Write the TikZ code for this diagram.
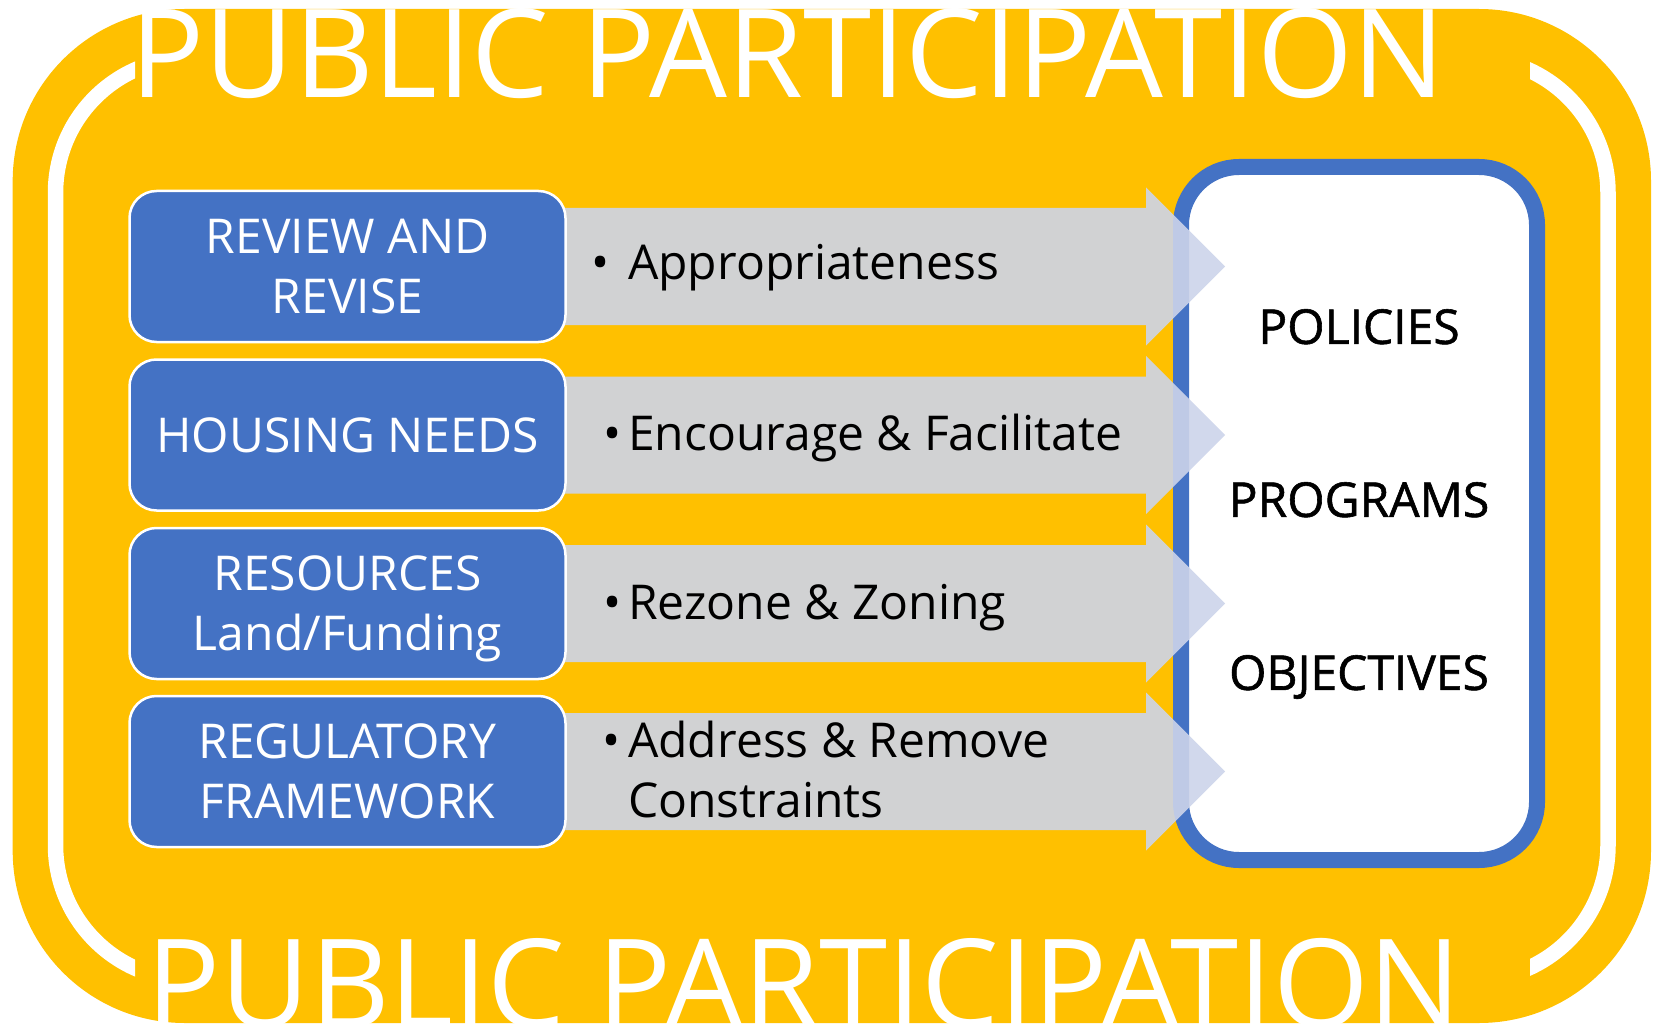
\documentclass[tikz,border=0pt]{standalone}
\usepackage{fontspec}
\setmainfont{Open Sans}
\newfontfamily\goalfont{Open Sans}[FakeBold=1.2]
\usetikzlibrary{positioning}
\definecolor{ppyellow}{HTML}{FFC000}
\definecolor{ppblue}{HTML}{4472C4}
\definecolor{pparrow}{HTML}{CDD4EA}

\begin{document}
\begin{tikzpicture}[x=1pt,y=-1pt,
  stagebox/.style={draw=white,line width=2.5pt,fill=ppblue,rounded corners=27pt,
    minimum width=436pt,minimum height=151pt,inner sep=0pt,text=white,align=center,
    font=\fontsize{48}{60}\selectfont},
  goalbox/.style={draw=ppblue,line width=16pt,fill=white,rounded corners=58pt,
    minimum width=356pt,minimum height=693pt,inner sep=0pt},
  goaltext/.style={font=\goalfont\fontsize{48}{60}\selectfont,text depth=0pt,inner sep=0pt},
  itemtext/.style={anchor=west,align=left,inner sep=0pt,font=\fontsize{48}{60}\selectfont},
  itemline/.style={itemtext,text depth=0pt},
  blockarrow/.style={fill=pparrow,fill opacity=.9},
  banner/.style={text=white,inner sep=0pt,anchor=base,font=\fontsize{123}{140}\selectfont}]
\useasboundingbox (0,0) rectangle (1655,1027);
\clip (0,0) rectangle (1655,1027);
% yellow frame and the white ring, open under the titles
\fill[ppyellow,rounded corners=172pt] (12.7,9) rectangle (1651,1023);
\begin{scope}
\clip (0,0) rectangle (135,1027) (1530,0) rectangle (1655,1027) (135,100) rectangle (1530,940);
\draw[white,line width=15.5pt,rounded corners=135pt] (55.5,58) rectangle (1608,980);
\end{scope}
\node[banner] (toptitle) at (788,98) {PUBLIC PARTICIPATION};
\node[banner] (bottitle) at (804,1027) {PUBLIC PARTICIPATION};
% outcome box
\node[goalbox] (goal) at (1359,513.5) {};
% stages and their arrows
\foreach \nm/\cy/\lbl in {review/266.5/{REVIEW AND\\REVISE},needs/435/{HOUSING NEEDS},
  resources/603.5/{RESOURCES\\\smash{Land/Funding}},framework/771.5/{REGULATORY\\FRAMEWORK}}{
  \fill[blockarrow] (550,\cy-58.5) -- (1146,\cy-58.5) -- (1146,\cy-79) -- (1225,\cy)
    -- (1146,\cy+79) -- (1146,\cy+58.5) -- (550,\cy+58.5) -- cycle;
  \node[stagebox] (\nm) at (347.5,\cy) {\lbl};
}
\node[itemline] (approp) at (628,261.75) {\llap{•\hspace{19pt}}Appropriateness};
\node[itemline] (encour) at (628,432.75) {\llap{•\hspace{7pt}}Encourage \& Facilitate};
\node[itemline] (rezone) at (628,601.75) {\llap{•\hspace{7pt}}Rezone \& Zoning};
\node[itemtext] (remove) at (628,769.75) {\llap{•\hspace{8pt}}Address \& Remove\\Constraints};
\node[goaltext] (policies) at (1359,326.5) {POLICIES};
\node[goaltext] (programs) at (1359,499.5) {PROGRAMS};
\node[goaltext] (objectives) at (1359,672.5) {OBJECTIVES};
\end{tikzpicture}
\end{document}
